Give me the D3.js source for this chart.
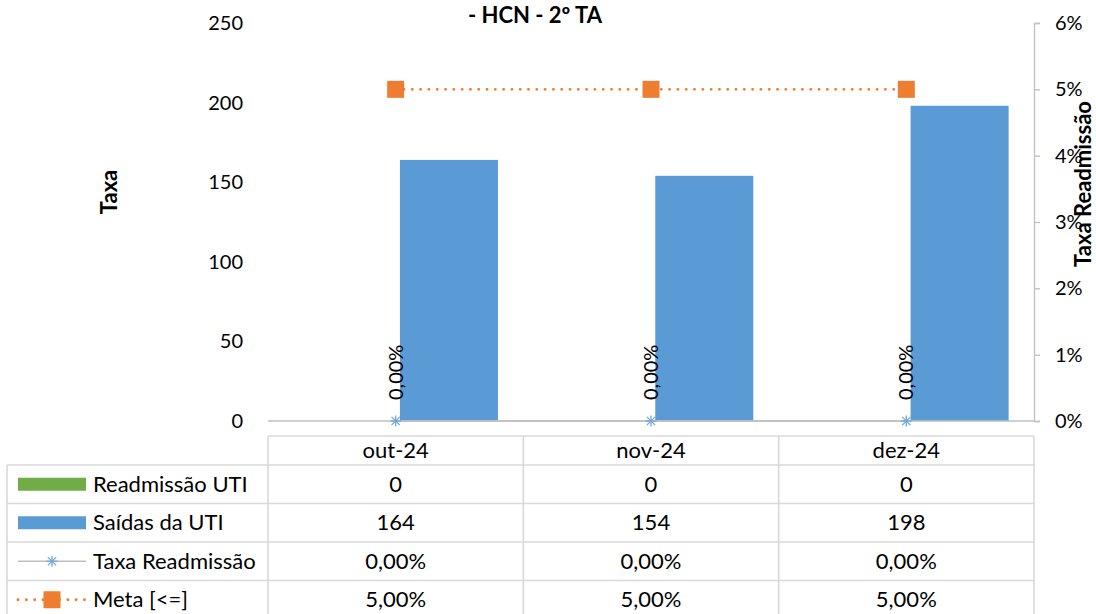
<!DOCTYPE html>
<html>
<head>
<meta charset="utf-8">
<script src="https://cdn.jsdelivr.net/npm/d3@7"></script>
<style>
  html, body { margin: 0; padding: 0; background: #ffffff; }
  svg { display: block; }
  text { font-family: Lato, "Open Sans", sans-serif; fill: #000; }
</style>
</head>
<body>
<svg id="chart" width="1096" height="614"></svg>
<script>
// Monthly ICU figures
const categories = ["out-24", "nov-24", "dez-24"];
const readmissoes = [0, 0, 0];
const saidas = [164, 154, 198];
const taxa = [0, 0, 0];
const meta = [0.05, 0.05, 0.05];
const leftTicks = [0, 50, 100, 150, 200, 250];
const rightTicks = [0, 0.01, 0.02, 0.03, 0.04, 0.05, 0.06];
const seriesNames = ["Readmissão UTI", "Saídas da UTI", "Taxa Readmissão", "Meta [<=]"];

const C = {
  green: "#70AD47",
  blue: "#5B9BD5",
  orange: "#ED7D31",
  gray: "#BFBFBF",
  grid: "#D9D9D9",
  star: "#6FA8DC"
};

const locale = d3.formatLocale({ decimal: ",", thousands: ".", grouping: [3], currency: ["R$", ""] });
const pct2 = locale.format(".2%");
const pct0 = locale.format(".0%");

const svg = d3.select("#chart");
const plot = { left: 268, right: 1034, top: 23, bottom: 421 };

const x = d3.scaleBand().domain(categories).range([plot.left, plot.right]).paddingInner(0).paddingOuter(0);
const xSub = d3.scaleBand().domain(["readm", "saidas"]).range([0, x.bandwidth()])
  .paddingInner(0.08).paddingOuter(0.238);
const yL = d3.scaleLinear().domain([0, 250]).range([plot.bottom, plot.top]);
const yR = d3.scaleLinear().domain([0, 0.06]).range([plot.bottom, plot.top]);
const cx = c => x(c) + x.bandwidth() / 2;

// Title
svg.append("text").attr("x", 535).attr("y", 23).attr("text-anchor", "middle")
  .style("font-weight", "bold").style("font-size", "22px").text("- HCN - 2º TA");

// Left axis (labels only)
const gL = svg.append("g").attr("transform", `translate(${plot.left},0)`)
  .call(d3.axisLeft(yL).tickValues(leftTicks).tickSize(0).tickPadding(25));
gL.select(".domain").remove();
gL.selectAll("text").style("font-family", "Lato, sans-serif").style("font-size", "20px").attr("fill", "#000");

// Right axis
const gR = svg.append("g").attr("transform", `translate(${plot.right},0)`)
  .call(d3.axisRight(yR).tickValues(rightTicks).tickFormat(pct0).tickSize(6).tickPadding(15));
gR.select(".domain").attr("stroke", C.gray).attr("stroke-width", 1.3);
gR.selectAll(".tick line").attr("stroke", C.gray).attr("stroke-width", 1.3);
gR.selectAll("text").style("font-family", "Lato, sans-serif").style("font-size", "20px").attr("fill", "#000");

// Axis titles
svg.append("text").attr("transform", "translate(117,192) rotate(-90)").attr("text-anchor", "middle")
  .style("font-weight", "bold").style("font-size", "22px").text("Taxa");
svg.append("text").attr("transform", "translate(1091,184) rotate(-90)").attr("text-anchor", "middle")
  .style("font-weight", "bold").style("font-size", "22px").text("Taxa Readmissão");

// Bars
svg.append("g").selectAll("rect.readm").data(categories).join("rect")
  .attr("x", c => x(c) + xSub("readm")).attr("width", xSub.bandwidth())
  .attr("y", (c, i) => yL(readmissoes[i])).attr("height", (c, i) => yL(0) - yL(readmissoes[i]))
  .attr("fill", C.green);
svg.append("g").selectAll("rect.saidas").data(categories).join("rect")
  .attr("x", c => x(c) + xSub("saidas")).attr("width", xSub.bandwidth())
  .attr("y", (c, i) => yL(saidas[i])).attr("height", (c, i) => yL(0) - yL(saidas[i]))
  .attr("fill", C.blue);

// Category axis baseline
svg.append("line").attr("x1", plot.left).attr("x2", plot.right)
  .attr("y1", yL(0)).attr("y2", yL(0)).attr("stroke", C.gray).attr("stroke-width", 1.3);

// Taxa Readmissão line + markers
const lineR = d3.line().x((d, i) => cx(categories[i])).y(d => yR(d));
svg.append("path").datum(taxa).attr("d", lineR).attr("fill", "none")
  .attr("stroke", C.gray).attr("stroke-width", 1.5);

function star(g, px, py, r, color) {
  const s = g.append("g").attr("transform", `translate(${px},${py})`)
    .attr("stroke", color).attr("stroke-width", 1.3);
  s.append("line").attr("x1", -r).attr("x2", r).attr("y1", 0).attr("y2", 0);
  s.append("line").attr("x1", 0).attr("x2", 0).attr("y1", -r).attr("y2", r);
  s.append("line").attr("x1", -r * 0.75).attr("x2", r * 0.75).attr("y1", -r * 0.75).attr("y2", r * 0.75);
  s.append("line").attr("x1", -r * 0.75).attr("x2", r * 0.75).attr("y1", r * 0.75).attr("y2", -r * 0.75);
}
const gStars = svg.append("g");
taxa.forEach((v, i) => star(gStars, cx(categories[i]), yR(v), 5.5, C.star));

// Taxa data labels
svg.append("g").selectAll("text").data(taxa).join("text")
  .attr("transform", (d, i) => `translate(${cx(categories[i]) + 7},${yR(d) - 21}) rotate(-90)`)
  .style("font-size", "20px").text(d => pct2(d));

// Meta line + markers
svg.append("path").datum(meta).attr("d", lineR).attr("fill", "none")
  .attr("stroke", C.orange).attr("stroke-width", 2.8).attr("stroke-linecap", "round")
  .attr("stroke-dasharray", "0.1 8.2");
svg.append("g").selectAll("rect").data(meta).join("rect")
  .attr("x", (d, i) => cx(categories[i]) - 8.5).attr("y", d => yR(d) - 8.5)
  .attr("width", 17).attr("height", 17).attr("fill", C.orange);

// Data table
const table = { left: 7, top: 436, header: 29, row: 38.5 };
const gT = svg.append("g");
const rowY = i => table.top + table.header + i * table.row;
const tline = (x1, y1, x2, y2) => gT.append("line").attr("x1", x1).attr("y1", y1).attr("x2", x2).attr("y2", y2)
  .attr("stroke", C.grid).attr("stroke-width", 1.6);

tline(plot.left, table.top, plot.right, table.top);
tline(table.left, rowY(0), plot.right, rowY(0));
for (let i = 1; i <= 4; i++) tline(table.left, rowY(i), plot.right, rowY(i));
tline(table.left, rowY(0), table.left, 620);
tline(plot.left, table.top, plot.left, 620);
categories.forEach(c => tline(x(c) + x.bandwidth(), table.top, x(c) + x.bandwidth(), 620));

gT.selectAll("text.hdr").data(categories).join("text")
  .attr("x", c => cx(c)).attr("y", table.top + table.header / 2).attr("dy", "0.35em")
  .attr("text-anchor", "middle").style("font-size", "22px").text(c => c);

const rows = [
  readmissoes.map(v => String(v)),
  saidas.map(v => String(v)),
  taxa.map(pct2),
  meta.map(pct2)
];
rows.forEach((vals, r) => {
  const yc = rowY(r) + table.row / 2;
  vals.forEach((v, i) => {
    gT.append("text").attr("x", cx(categories[i])).attr("y", yc).attr("dy", "0.35em")
      .attr("text-anchor", "middle").style("font-size", "22px").text(v);
  });
  gT.append("text").attr("x", 93).attr("y", yc).attr("dy", "0.35em")
    .style("font-size", "22px").text(seriesNames[r]);
});

// legend keys in the table
const kx0 = 18, kx1 = 86, kmid = 52;
const kc = r => rowY(r) + table.row / 2;
gT.append("rect").attr("x", kx0).attr("y", kc(0) - 6.5).attr("width", kx1 - kx0).attr("height", 13).attr("fill", C.green);
gT.append("rect").attr("x", kx0).attr("y", kc(1) - 6.5).attr("width", kx1 - kx0).attr("height", 13).attr("fill", C.blue);
gT.append("line").attr("x1", kx0).attr("x2", kx1).attr("y1", kc(2)).attr("y2", kc(2))
  .attr("stroke", C.gray).attr("stroke-width", 1.5);
star(gT, kmid, kc(2), 5.5, C.star);
gT.append("line").attr("x1", kx0).attr("x2", kx1).attr("y1", kc(3)).attr("y2", kc(3))
  .attr("stroke", C.orange).attr("stroke-width", 2.8).attr("stroke-linecap", "round")
  .attr("stroke-dasharray", "0.1 8.2");
gT.append("rect").attr("x", kmid - 8.5).attr("y", kc(3) - 8.5).attr("width", 17).attr("height", 17).attr("fill", C.orange);
</script>
</body>
</html>
